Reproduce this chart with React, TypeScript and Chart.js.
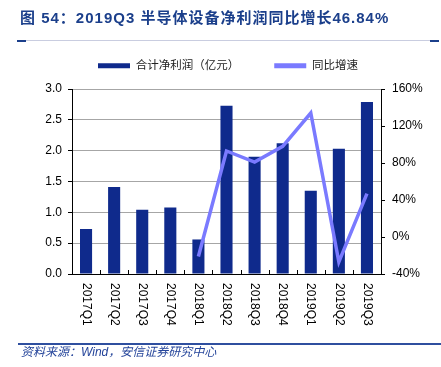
import React, { useEffect, useRef } from 'react';
import { Chart, registerables } from 'chart.js';

Chart.register(...registerables);

const categories = ['2017Q1', '2017Q2', '2017Q3', '2017Q4', '2018Q1', '2018Q2', '2018Q3', '2018Q4', '2019Q1', '2019Q2', '2019Q3'];
const netProfit = [0.73, 1.41, 1.04, 1.08, 0.56, 2.73, 1.9, 2.12, 1.35, 2.03, 2.79];
const yoyGrowth: (number | null)[] = [null, null, null, null, -21, 93, 81, 98, 134, -27, 46.84];
const leftAxis = { min: 0, max: 3, step: 0.5 };
const rightAxis = { min: -40, max: 160, step: 40 };
const seriesNames = ['合计净利润（亿元）', '同比增速'];
const titleText = '图 54：2019Q3 半导体设备净利润同比增长46.84%';
const sourceText = '资料来源：Wind，安信证券研究中心';

const FONT = '"Liberation Sans", Arial, "Noto Sans CJK SC", sans-serif';
const BAR_COLOR = '#0f2a8c';
const LINE_COLOR = '#7a7aff';
const TITLE_COLOR = '#1b3f8b';

const legendSpace = {
  id: 'legendSpace',
  beforeInit(chart: any) {
    const lg = chart.legend;
    if (!lg) return;
    const orig = lg.fit;
    lg.fit = function () {
      orig.call(this);
      this.height += 7.5;
    };
  },
};

const xLabels = {
  id: 'xLabels',
  afterDraw(chart: any) {
    const ctx = chart.ctx;
    const xs = chart.scales.x;
    const area = chart.chartArea;
    const labels = chart.data.labels as string[];
    ctx.save();
    ctx.fillStyle = '#000';
    ctx.font = '12px ' + FONT;
    ctx.textAlign = 'left';
    ctx.textBaseline = 'middle';
    labels.forEach((lab, i) => {
      const px = xs.getPixelForValue(i);
      ctx.save();
      ctx.translate(px, area.bottom + 9);
      ctx.rotate(Math.PI / 2);
      ctx.fillText(lab, 0, 0);
      ctx.restore();
    });
    ctx.strokeStyle = '#000';
    ctx.lineWidth = 1;
    for (let i = 0; i < labels.length - 1; i++) {
      const b = Math.round((xs.getPixelForValue(i) + xs.getPixelForValue(i + 1)) / 2) + 0.5;
      ctx.beginPath();
      ctx.moveTo(b, area.bottom);
      ctx.lineTo(b, area.bottom - 4);
      ctx.stroke();
    }
    ctx.restore();
  },
};

function ChartView() {
  const ref = useRef<HTMLCanvasElement | null>(null);
  useEffect(() => {
    if (!ref.current) return;
    const chart = new Chart(ref.current, {
      type: 'bar',
      data: {
        labels: categories,
        datasets: [
          {
            type: 'bar',
            label: seriesNames[0],
            data: netProfit,
            backgroundColor: BAR_COLOR,
            borderColor: BAR_COLOR,
            borderWidth: 0,
            yAxisID: 'y',
            order: 1,
            categoryPercentage: 0.86,
            barPercentage: 0.5,
          } as any,
          {
            type: 'line',
            label: seriesNames[1],
            data: yoyGrowth,
            borderColor: LINE_COLOR,
            backgroundColor: LINE_COLOR,
            borderWidth: 3.5,
            pointRadius: 0,
            tension: 0,
            yAxisID: 'y1',
            order: 0,
          } as any,
        ],
      },
      options: {
        responsive: false,
        animation: false,
        devicePixelRatio: 1,
        layout: { padding: { top: 25, left: 15, right: 0, bottom: 0 } },
        plugins: {
          tooltip: { enabled: false },
          legend: {
            display: true,
            position: 'top',
            labels: {
              boxWidth: 32,
              boxHeight: 5,
              padding: 35,
              color: '#222',
              font: { size: 11.5, family: FONT },
              sort: (a: any, b: any) => a.datasetIndex - b.datasetIndex,
              generateLabels: (c: any) =>
                (Chart.defaults.plugins.legend.labels.generateLabels as any)(c).map((l: any) => {
                  const ds = c.data.datasets[l.datasetIndex];
                  return { ...l, fillStyle: ds.borderColor, strokeStyle: ds.borderColor, lineWidth: 0 };
                }),
            },
          },
        },
        scales: {
          x: {
            offset: true,
            grid: { display: false },
            border: { display: true, color: '#000', width: 1 },
            ticks: { display: false },
            afterFit: (s: any) => {
              s.height = 93;
            },
          },
          y: {
            position: 'left',
            min: leftAxis.min,
            max: leftAxis.max,
            ticks: {
              stepSize: leftAxis.step,
              color: '#000',
              padding: 6,
              font: { size: 12, family: FONT },
              callback: (v: any) => Number(v).toFixed(1),
            },
            grid: { color: '#a6a6a6', tickColor: '#000', tickLength: 4, drawTicks: true },
            border: { display: true, color: '#000', width: 1 },
            afterFit: (s: any) => {
              s.width = 57;
            },
          },
          y1: {
            position: 'right',
            min: rightAxis.min,
            max: rightAxis.max,
            ticks: {
              stepSize: rightAxis.step,
              color: '#000',
              padding: 7,
              font: { size: 12, family: FONT },
              callback: (v: any) => v + '%',
            },
            grid: { drawOnChartArea: false, tickColor: '#000', tickLength: 4, drawTicks: true },
            border: { display: true, color: '#000', width: 1 },
            afterFit: (s: any) => {
              s.width = 60;
            },
          },
        },
      } as any,
      plugins: [legendSpace, xLabels],
    });
    return () => chart.destroy();
  }, []);
  return <canvas ref={ref} width={441} height={367} style={{ position: 'absolute', left: 0, top: 0, width: 441, height: 367 }} />;
}

export default function App() {
  return (
    <div style={{ position: 'fixed', left: 0, top: 0, width: 441, height: 367, background: '#fff', overflow: 'hidden' }}>
      <ChartView />
      <div
        style={{
          position: 'absolute',
          left: 20,
          top: 9,
          fontFamily: FONT,
          fontWeight: 'bold',
          fontSize: 15,
          letterSpacing: 1,
          color: TITLE_COLOR,
          whiteSpace: 'nowrap',
          lineHeight: '18px',
        }}
      >
        {titleText}
      </div>
      <div style={{ position: 'absolute', left: 26, top: 40, width: 404, height: 1, background: '#c9cde0' }} />
      <div style={{ position: 'absolute', left: 17, top: 40, width: 9, height: 2, background: TITLE_COLOR }} />
      <div style={{ position: 'absolute', left: 430, top: 40, width: 9, height: 2, background: TITLE_COLOR }} />
      <div style={{ position: 'absolute', left: 18, top: 343, width: 423, height: 2, background: '#2f4f9f' }} />
      <div
        style={{
          position: 'absolute',
          left: 21,
          top: 345,
          fontFamily: FONT,
          fontStyle: 'italic',
          fontSize: 12,
          color: '#24449a',
          whiteSpace: 'nowrap',
          lineHeight: '15px',
        }}
      >
        {sourceText}
      </div>
    </div>
  );
}
